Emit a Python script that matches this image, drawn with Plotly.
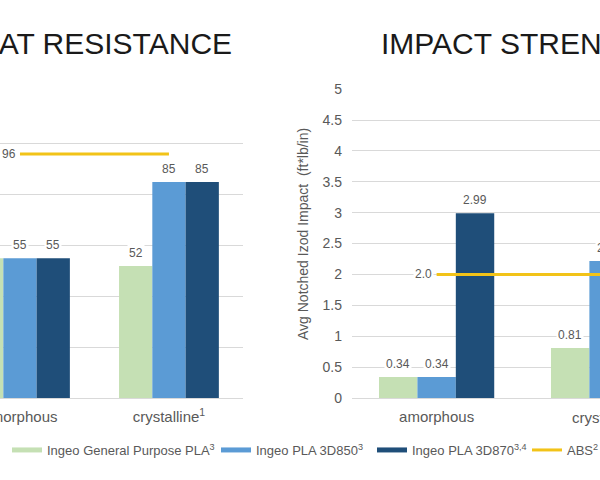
import plotly.graph_objects as go

# ---------------- data ----------------
categories = ["amorphous", "crystalline"]
category_ticktext = ["amorphous", "crystalline<sup>1</sup>"]
series_names = [
    "Ingeo General Purpose PLA<sup>3</sup>",
    "Ingeo PLA 3D850<sup>3</sup>",
    "Ingeo PLA 3D870<sup>3,4</sup>",
]
abs_name = "ABS<sup>2</sup>"

heat_gp = [55, 52]
heat_3d850 = [55, 85]
heat_3d870 = [55, 85]
heat_abs = [96, 96]

impact_gp = [0.34, 0.81]
impact_3d850 = [0.34, 2.22]
impact_3d870 = [2.99, 2.50]
impact_abs = [2.0, 2.0]

heat_title = "HEAT RESISTANCE"
impact_title = "IMPACT STRENGTH"
impact_ytitle = "Avg Notched Izod Impact  (ft*lb/in)"
heat_yticks = [0, 20, 40, 60, 80, 100, 120]
impact_yticks = [0, 0.5, 1, 1.5, 2, 2.5, 3, 3.5, 4, 4.5, 5]
impact_yticktext = ["0", "0.5", "1", "1.5", "2", "2.5", "3", "3.5", "4", "4.5", "5"]

# ---------------- style ----------------
W, H = 600, 480
bar_colors = ["#C5E0B4", "#5B9BD5", "#1F4E79"]
abs_color = "#F2C318"
grid_color = "#D9D9D9"
text_gray = "#595959"
FONT = "Liberation Sans, Arial, sans-serif"
BARGAP = 0.33

left_dom_x = [0.0, 243 / W]
left_dom_y = [1 - 398 / H, 1 - 93 / H]
right_dom_x = [352 / W, 1.0]
right_dom_y = [1 - 398 / H, 1 - 89 / H]
left_range_x = [-0.134, 1.497]
right_range_x = [-0.492, 0.95]


def to_paper(v, rng, dom):
    return dom[0] + (v - rng[0]) / (rng[1] - rng[0]) * (dom[1] - dom[0])


fig = go.Figure()

heat_series = [heat_gp, heat_3d850, heat_3d870]
impact_series = [impact_gp, impact_3d850, impact_3d870]

for i, (name, vals) in enumerate(zip(series_names, heat_series)):
    fig.add_trace(go.Bar(x=categories, y=vals, name=name, marker_color=bar_colors[i],
                         marker_line_width=0, showlegend=False, xaxis="x", yaxis="y",
                         offsetgroup=str(i)))
for i, (name, vals) in enumerate(zip(series_names, impact_series)):
    fig.add_trace(go.Bar(x=categories, y=vals, name=name, marker_color=bar_colors[i],
                         marker_line_width=0, showlegend=False, xaxis="x2", yaxis="y2",
                         offsetgroup=str(i)))

fig.add_trace(go.Scatter(x=categories, y=heat_abs, mode="lines", name=abs_name,
                         line=dict(color=abs_color, width=3), xaxis="x", yaxis="y",
                         showlegend=True, legend="legend4"))
fig.add_trace(go.Scatter(x=categories, y=impact_abs, mode="lines", name=abs_name,
                         line=dict(color=abs_color, width=3), xaxis="x2", yaxis="y2",
                         showlegend=False))

# legend entries (line-style keys as in the original)
legend_ids = ["legend", "legend2", "legend3"]
for i, name in enumerate(series_names):
    fig.add_trace(go.Scatter(x=[None], y=[None], mode="lines", name=name,
                             line=dict(color=bar_colors[i], width=5),
                             xaxis="x", yaxis="y", legend=legend_ids[i], showlegend=True))

# ---------------- value labels ----------------
bw = (1 - BARGAP) / 3
offsets = [-bw, 0, bw]
annotations = []
lab_font = dict(family=FONT, size=12, color=text_gray)
for i, vals in enumerate(heat_series):
    for ci, v in enumerate(vals):
        annotations.append(dict(
            x=to_paper(ci + offsets[i], left_range_x, left_dom_x), xref="paper",
            y=v, yref="y", text=f"{v:d}", showarrow=False, yanchor="bottom",
            xanchor="center", yshift=4, bgcolor="white", borderpad=1, font=lab_font))
for i, vals in enumerate(impact_series):
    for ci, v in enumerate(vals):
        annotations.append(dict(
            x=to_paper(ci + offsets[i], right_range_x, right_dom_x), xref="paper",
            y=v, yref="y2", text=f"{v:.2f}", showarrow=False, yanchor="bottom",
            xanchor="center", yshift=4, bgcolor="white", borderpad=1, font=lab_font))

annotations.append(dict(x=to_paper(0, left_range_x, left_dom_x), xref="paper",
                        y=heat_abs[0], yref="y", text=f"{heat_abs[0]:d}", showarrow=False,
                        xanchor="right", yanchor="middle", xshift=-2, bgcolor="white",
                        borderpad=1, font=lab_font))
annotations.append(dict(x=to_paper(0, right_range_x, right_dom_x), xref="paper",
                        y=impact_abs[0], yref="y2", text=f"{impact_abs[0]:.1f}", showarrow=False,
                        xanchor="right", yanchor="middle", xshift=-3, bgcolor="white",
                        borderpad=1, font=lab_font))

# category label of the right chart that lies past the visible edge
annotations.append(dict(x=to_paper(1, right_range_x, right_dom_x), xref="paper",
                        y=right_dom_y[0], yref="paper", text=category_ticktext[1],
                        showarrow=False, xanchor="center", yanchor="top", yshift=-7,
                        font=dict(family=FONT, size=15, color=text_gray)))

# y-axis title of the right chart
annotations.append(dict(x=303 / W, xref="paper", y=1 - 234 / H, yref="paper",
                        text=impact_ytitle, textangle=-90, showarrow=False,
                        xanchor="center", yanchor="middle",
                        font=dict(family=FONT, size=14, color=text_gray)))

# titles
title_font = dict(family=FONT, size=30, color="#1A1A1A")
annotations.append(dict(x=(left_dom_x[0] - 54.5 / W + left_dom_x[1]) / 2, xref="paper",
                        y=1 - 43 / H, yref="paper", text=heat_title, showarrow=False,
                        xanchor="center", yanchor="middle", font=title_font))
annotations.append(dict(x=(right_dom_x[0] + to_paper(1.5, right_range_x, right_dom_x)) / 2,
                        xref="paper", y=1 - 43 / H, yref="paper", text=impact_title,
                        showarrow=False, xanchor="center", yanchor="middle", font=title_font))

legend_font = dict(family=FONT, size=13, color=text_gray)
leg_text_px = [47, 256, 412, 567]


def leg(px):
    return dict(x=(px - 40) / W, xanchor="left", y=1 - 450 / H, yanchor="middle",
                orientation="h", font=legend_font, bgcolor="rgba(0,0,0,0)",
                borderwidth=0, itemwidth=30)


fig.update_layout(
    width=W, height=H, autosize=False,
    margin=dict(l=0, r=0, t=0, b=0, autoexpand=False),
    paper_bgcolor="white", plot_bgcolor="white",
    barmode="group", bargap=BARGAP, bargroupgap=0,
    font=dict(family=FONT, color=text_gray),
    xaxis=dict(domain=left_dom_x, range=left_range_x, type="category",
               tickvals=categories, ticktext=category_ticktext, showgrid=False,
               showline=False, ticks="", tickfont=dict(size=15, color=text_gray), anchor="y",
               automargin=False, ticklabelstandoff=8),
    yaxis=dict(domain=left_dom_y, range=[0, 120.05], tickvals=heat_yticks,
               showticklabels=False, showgrid=True, gridcolor=grid_color, gridwidth=1,
               zeroline=True, zerolinecolor=grid_color, zerolinewidth=1, anchor="x",
               automargin=False),
    xaxis2=dict(domain=right_dom_x, range=right_range_x, type="category",
                tickvals=categories, ticktext=category_ticktext, showgrid=False,
                showline=False, ticks="", tickfont=dict(size=15, color=text_gray), anchor="y2",
                automargin=False, ticklabelstandoff=8),
    yaxis2=dict(domain=right_dom_y, range=[0, 5.003], tickvals=impact_yticks,
                ticktext=impact_yticktext, showgrid=True, gridcolor=grid_color, gridwidth=1,
                zeroline=True, zerolinecolor=grid_color, zerolinewidth=1, anchor="x2",
                tickfont=dict(size=14, color=text_gray), ticklabelstandoff=9,
                automargin=False),
    legend=leg(leg_text_px[0]),
    legend2=leg(leg_text_px[1]),
    legend3=leg(leg_text_px[2]),
    legend4=leg(leg_text_px[3]),
    annotations=annotations,
)

fig.write_html("out.html")
